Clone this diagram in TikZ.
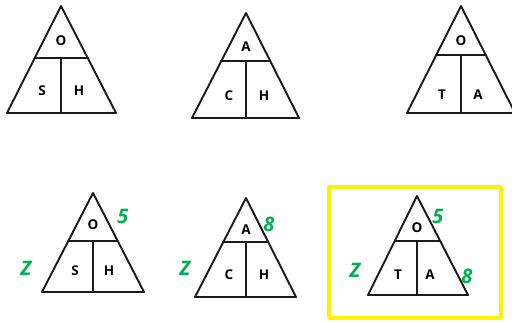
\documentclass[tikz,border=0pt]{standalone}
\usepackage{fontspec}
\setmainfont{Open Sans}
\usepackage{tikz}
\usepackage{xcolor}
\definecolor{numgreen}{RGB}{0,176,80}
\definecolor{boxyellow}{RGB}{255,242,0}

\begin{document}
\begin{tikzpicture}[x=1pt,y=-1pt,line cap=round,line join=round,
  tri/.style={line width=1.9pt,black!90},
  lbl/.style={font=\fontsize{13.5}{13.5}\selectfont\bfseries,inner sep=0pt},
  val/.style={font=\fontsize{20}{20}\selectfont\bfseries\itshape,text=numgreen,inner sep=0pt}]
\useasboundingbox (0,0) rectangle (512,322);
\clip (0,0) rectangle (512,322);
% top row
\draw[tri] (61,6) -- (7,113) -- (116,113) -- cycle;
\draw[tri] (35,58) -- (88,58);
\draw[tri] (61,58) -- (61,113);
\node[lbl] (o1) at (61,41) {O};
\node[lbl] (s1) at (42,91) {S};
\node[lbl] (h1) at (79,91) {H};
\draw[tri] (246,13) -- (192,118) -- (299,118) -- cycle;
\draw[tri] (221,61) -- (270,61);
\draw[tri] (246,61) -- (246,118);
\node[lbl] (a2) at (246,47) {A};
\node[lbl] (c2) at (229,96) {C};
\node[lbl] (h2) at (264,96) {H};
\draw[tri] (461,6) -- (407,113) -- (515,113) -- cycle;
\draw[tri] (436,55) -- (486,55);
\draw[tri] (461,55) -- (461,113);
\node[lbl] (o3) at (461,41) {O};
\node[lbl] (t3) at (442,95) {T};
\node[lbl] (a3) at (478,95) {A};
% bottom row
\draw[tri] (93,193) -- (42,292) -- (144,292) -- cycle;
\draw[tri] (68,241) -- (118,241);
\draw[tri] (93,241) -- (93,292);
\node[lbl] (o4) at (93,225) {O};
\node[lbl] (s4) at (75,271) {S};
\node[lbl] (h4) at (109,271) {H};
\node[val] (n4) at (123,216) {5};
\node[val] (z4) at (26,268) {Z};
\draw[tri] (246,198) -- (195,297) -- (296,297) -- cycle;
\draw[tri] (223,242) -- (268,242);
\draw[tri] (246,242) -- (246,297);
\node[lbl] (a5) at (246,230) {A};
\node[lbl] (c5) at (229,275) {C};
\node[lbl] (h5) at (264,275) {H};
\node[val] (n5) at (269,224) {8};
\node[val] (z5) at (185,268) {Z};
\draw[boxyellow,line width=3.6pt] (329,187) rectangle (501,318);
\draw[tri] (417,196) -- (368,295) -- (468,295) -- cycle;
\draw[tri] (395,241) -- (440,241);
\draw[tri] (417,241) -- (417,295);
\node[lbl] (o6) at (417,228) {O};
\node[lbl] (t6) at (398,275) {T};
\node[lbl] (a6) at (430,275) {A};
\node[val] (n6) at (438,216) {5};
\node[val] (z6) at (355,270) {Z};
\node[val] (e6) at (467,276) {8};
\end{tikzpicture}
\end{document}
